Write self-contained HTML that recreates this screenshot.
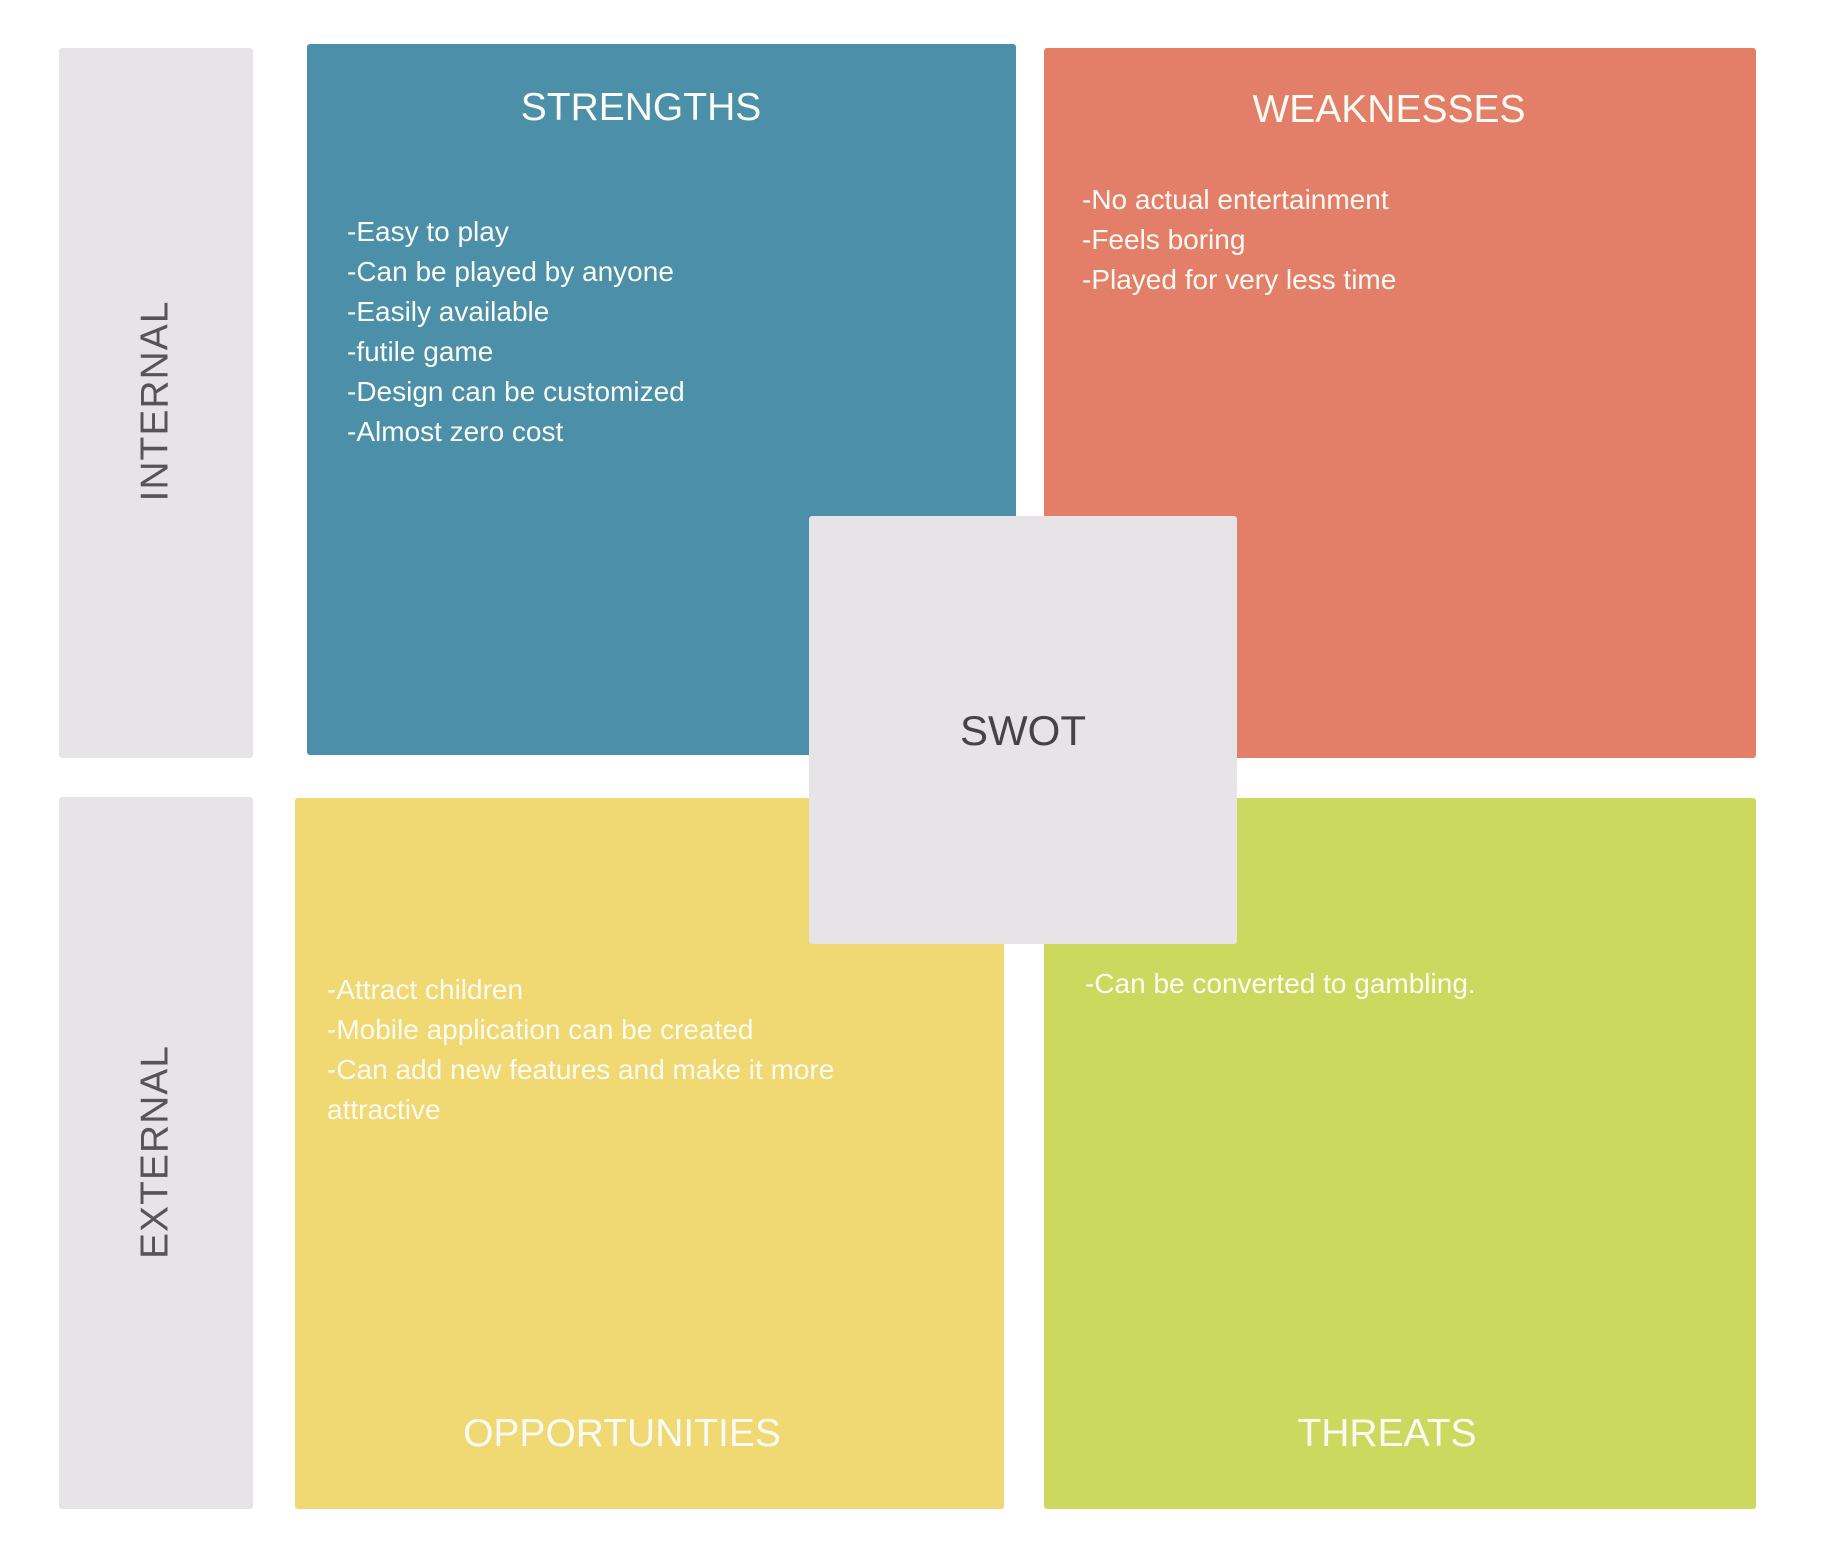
<!DOCTYPE html>
<html><head><meta charset="utf-8"><style>
body{margin:0;width:1848px;height:1566px;background:#fff;position:relative;overflow:hidden;font-family:"Liberation Sans",sans-serif}
.b{position:absolute;border-radius:3px}
.t{position:absolute;white-space:nowrap;color:#fbfbf4}
.h{font-size:39px;line-height:39px;width:600px;text-align:center}
.l{font-size:28px;line-height:40px}
.r{position:absolute;font-size:39px;line-height:39px;color:#555;width:400px;text-align:center;transform:translate(-50%,-50%) rotate(-90deg);letter-spacing:1px}
</style></head><body>
<div class="b" style="left:59px;top:48px;width:194px;height:710px;background:#e7e4e8"></div>
<div class="b" style="left:59px;top:797px;width:194px;height:712px;background:#e7e4e8"></div>
<div class="b" style="left:307px;top:44px;width:709px;height:711px;background:#4b8fa8"></div>
<div class="b" style="left:1044px;top:48px;width:712px;height:710px;background:#e37f68"></div>
<div class="b" style="left:295px;top:798px;width:709px;height:711px;background:#f0d872"></div>
<div class="b" style="left:1044px;top:798px;width:712px;height:711px;background:#cdd95e"></div>
<div class="b" style="left:809px;top:516px;width:428px;height:428px;background:#e7e4e8"></div>

<div class="r" style="left:155px;top:401px">INTERNAL</div>
<div class="r" style="left:155px;top:1152px">EXTERNAL</div>

<div class="t h" style="left:341px;top:88px">STRENGTHS</div>
<div class="t h" style="left:1089px;top:90px">WEAKNESSES</div>
<div class="t h" style="left:322px;top:1414px">OPPORTUNITIES</div>
<div class="t h" style="left:1087px;top:1414px">THREATS</div>

<div class="t l" style="left:347px;top:212px">-Easy to play<br>-Can be played by anyone<br>-Easily available<br>-futile game<br>-Design can be customized<br>-Almost zero cost</div>
<div class="t l" style="left:1082px;top:180px">-No actual entertainment<br>-Feels boring<br>-Played for very less time</div>
<div class="t l" style="left:327px;top:970px">-Attract children<br>-Mobile application can be created<br>-Can add new features and make it more<br>attractive</div>
<div class="t l" style="left:1085px;top:964px">-Can be converted to gambling.</div>

<div style="position:absolute;left:809px;top:710px;width:428px;text-align:center;font-size:42px;line-height:42px;color:#444">SWOT</div>
</body></html>
